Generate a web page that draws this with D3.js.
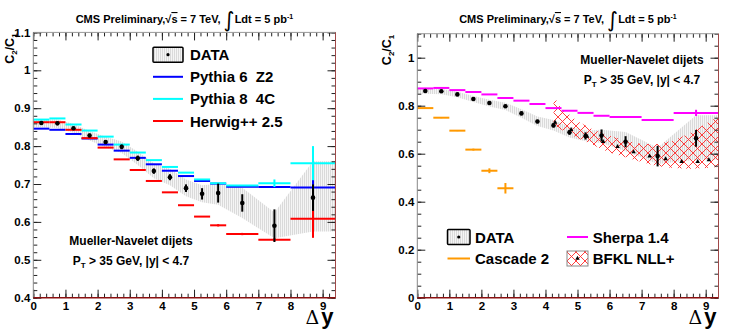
<!DOCTYPE html>
<html>
<head>
<meta charset="utf-8">
<script src="https://cdn.jsdelivr.net/npm/d3@7"></script>
<style>
body { margin: 0; background: #fff; }
text { font-family: "Liberation Sans", Arial, sans-serif; font-weight: bold; fill: #000; }
</style>
</head>
<body>
<svg id="chart" width="729" height="332"></svg>
<script>
// bins in delta y
const binEdges = [0, 0.5, 1, 1.5, 2, 2.5, 3, 3.5, 4, 4.5, 5, 5.5, 6, 7, 8, 9.4];

// measured C2/C1
const dataY    = [0.861, 0.860, 0.847, 0.828, 0.811, 0.798, 0.768, 0.734, 0.718, 0.689, 0.674, 0.676, 0.650, 0.590, 0.664];
const dataStat = [0.004, 0.004, 0.004, 0.005, 0.005, 0.006, 0.007, 0.007, 0.008, 0.010, 0.015, 0.025, 0.023, 0.043, 0.035];
const sysLo    = [0.850, 0.848, 0.835, 0.815, 0.797, 0.782, 0.750, 0.715, 0.697, 0.668, 0.652, 0.645, 0.610, 0.557, 0.575];
const sysHi    = [0.870, 0.870, 0.858, 0.840, 0.825, 0.812, 0.785, 0.755, 0.740, 0.712, 0.697, 0.700, 0.690, 0.625, 0.760];

// MC predictions (one value per bin)
const pythia6    = [0.846, 0.843, 0.832, 0.820, 0.804, 0.788, 0.769, 0.752, 0.735, 0.721, 0.708, 0.701, 0.693, 0.692, 0.691];
const pythia6Err = [0, 0, 0, 0, 0, 0, 0, 0, 0, 0, 0, 0, 0, 0, 0.02];
const pythia8    = [0.870, 0.873, 0.857, 0.841, 0.825, 0.804, 0.783, 0.763, 0.745, 0.730, 0.712, 0.702, 0.696, 0.702, 0.755];
const pythia8Err = [0, 0, 0, 0, 0, 0, 0, 0, 0, 0, 0, 0, 0, 0.01, 0.045];
const herwig     = [0.863, 0.863, 0.843, 0.821, 0.796, 0.765, 0.737, 0.708, 0.678, 0.644, 0.614, 0.591, 0.568, 0.553, 0.608];
const herwigErr  = [0, 0, 0, 0, 0, 0, 0, 0, 0, 0, 0, 0.003, 0.003, 0.004, 0.05];
const sherpa     = [0.872, 0.874, 0.865, 0.857, 0.847, 0.832, 0.821, 0.807, 0.790, 0.779, 0.770, 0.758, 0.753, 0.740, 0.770];
const sherpaErr  = [0, 0, 0, 0, 0, 0, 0, 0, 0, 0, 0, 0, 0.003, 0.003, 0.013];
const cascade    = [0.790, 0.750, 0.696, 0.617, 0.529, 0.456];
const cascadeErr = [0.002, 0.002, 0.002, 0.004, 0.010, 0.022];

// BFKL NLL+ band and central values
const bfklBandX = [4.25, 4.5, 5, 5.5, 6, 6.5, 7, 7.5, 8, 8.5, 9, 9.4];
const bfklHi    = [0.840, 0.790, 0.735, 0.700, 0.675, 0.655, 0.640, 0.640, 0.655, 0.685, 0.725, 0.755];
const bfklLo    = [0.720, 0.700, 0.665, 0.635, 0.605, 0.585, 0.565, 0.548, 0.540, 0.537, 0.540, 0.545];
const bfklX     = [4.3, 4.8, 5.3, 5.8, 6.25, 6.75, 7.25, 7.75, 8.25, 8.75, 9.1];
const bfklY     = [0.730, 0.700, 0.672, 0.650, 0.629, 0.607, 0.590, 0.578, 0.567, 0.567, 0.574];

const leftLegend  = ["DATA", "Pythia 6  Z2", "Pythia 8  4C", "Herwig++ 2.5"];
const rightLegend = ["DATA", "Cascade 2", "Sherpa 1.4", "BFKL NLL+"];

const colors = { p6: "#0000ff", p8: "#00ffff", hw: "#ff0000", sh: "#ff00ff", cas: "#ff9900" };
const binCenters = binEdges.slice(0, -1).map((e, i) => (e + binEdges[i + 1]) / 2);

const svg = d3.select("#chart");
const defs = svg.append("defs");

const sysPat = defs.append("pattern").attr("id", "sysPat")
  .attr("patternUnits", "userSpaceOnUse").attr("width", 2).attr("height", 4);
sysPat.append("rect").attr("width", 2).attr("height", 4).attr("fill", "#f5f5f5");
sysPat.append("line").attr("x1", 0.5).attr("x2", 0.5).attr("y1", 0).attr("y2", 4)
  .attr("stroke", "#dadada").attr("stroke-width", 1);

const hatch = defs.append("pattern").attr("id", "hatch")
  .attr("patternUnits", "userSpaceOnUse").attr("width", 9).attr("height", 9);
hatch.append("path").attr("d", "M0,0L9,9M9,0L0,9")
  .attr("stroke", "#ff2a2a").attr("stroke-width", 0.9).attr("fill", "none");

const yBase = 297.7;

function drawPanel(p) {
  const x = d3.scaleLinear().domain([0, 9.4]).range([p.left, p.right]);
  const y = d3.scaleLinear().domain(p.yDomain).range([yBase, p.top]);
  const g = svg.append("g");

  // systematic band of the data
  const band = [{ x: 0, lo: sysLo[0], hi: sysHi[0] }]
    .concat(binCenters.map((c, i) => ({ x: c, lo: sysLo[i], hi: sysHi[i] })))
    .concat([{ x: 9.4, lo: sysLo[sysLo.length - 1], hi: sysHi[sysHi.length - 1] }]);
  g.append("path").datum(band)
    .attr("d", d3.area().x(d => x(d.x)).y0(d => y(d.lo)).y1(d => y(d.hi)))
    .attr("fill", "url(#sysPat)");

  if (p.bfkl) {
    const bb = bfklBandX.map((v, i) => ({ x: v, lo: bfklLo[i], hi: bfklHi[i] }));
    g.append("path").datum(bb)
      .attr("d", d3.area().x(d => x(d.x)).y0(d => y(d.lo)).y1(d => y(d.hi)))
      .attr("fill", "url(#hatch)");
  }

  function hist(vals, errs, color) {
    const gg = g.append("g");
    gg.selectAll("line.h").data(vals).join("line")
      .attr("x1", (d, i) => x(binEdges[i])).attr("x2", (d, i) => x(binEdges[i + 1]))
      .attr("y1", d => y(d)).attr("y2", d => y(d))
      .attr("stroke", color).attr("stroke-width", 2);
    gg.selectAll("line.e").data(vals.map((v, i) => ({ v, e: errs[i], i })).filter(d => d.e > 0)).join("line")
      .attr("x1", d => x(binCenters[d.i])).attr("x2", d => x(binCenters[d.i]))
      .attr("y1", d => y(d.v - d.e)).attr("y2", d => y(d.v + d.e))
      .attr("stroke", color).attr("stroke-width", 2);
  }
  p.series.forEach(s => hist(s.vals, s.errs, s.color));

  // data points
  g.selectAll("line.stat").data(dataY).join("line")
    .attr("x1", (d, i) => x(binCenters[i])).attr("x2", (d, i) => x(binCenters[i]))
    .attr("y1", (d, i) => y(d - dataStat[i])).attr("y2", (d, i) => y(d + dataStat[i]))
    .attr("stroke", "#000").attr("stroke-width", 2);
  g.selectAll("circle.pt").data(dataY).join("circle")
    .attr("cx", (d, i) => x(binCenters[i])).attr("cy", d => y(d))
    .attr("r", 2.3).attr("fill", "#000");

  if (p.bfkl) {
    g.selectAll("path.tri").data(bfklY).join("path")
      .attr("d", d3.symbol().type(d3.symbolTriangle).size(9))
      .attr("transform", (d, i) => `translate(${x(bfklX[i])},${y(d)})`)
      .attr("fill", "#000");
  }

  // axes, ROOT style ticks inside the frame
  const fmt = d => String(+d.toFixed(1));
  const ax = [];
  ax.push(g.append("g").attr("transform", `translate(${p.left},0)`)
    .call(d3.axisLeft(y).tickValues(p.yMajor).tickSize(-8).tickPadding(3).tickFormat(fmt)));
  ax.push(g.append("g").attr("transform", `translate(${p.left},0)`)
    .call(d3.axisLeft(y).tickValues(p.yMinor).tickSize(-4).tickFormat("")));
  ax.push(g.append("g").attr("transform", `translate(${p.right},0)`)
    .call(d3.axisRight(y).tickValues(p.yMajor).tickSize(-8).tickFormat("")));
  ax.push(g.append("g").attr("transform", `translate(${p.right},0)`)
    .call(d3.axisRight(y).tickValues(p.yMinor).tickSize(-4).tickFormat("")));
  const xMajor = d3.range(0, 10);
  const xMinor = d3.range(0, 47).map(i => i * 0.2);
  ax.push(g.append("g").attr("transform", `translate(0,${yBase})`)
    .call(d3.axisBottom(x).tickValues(xMajor).tickSize(-8).tickPadding(4).tickFormat(d3.format("d"))));
  ax.push(g.append("g").attr("transform", `translate(0,${yBase})`)
    .call(d3.axisBottom(x).tickValues(xMinor).tickSize(-4).tickFormat("")));
  ax.push(g.append("g").attr("transform", `translate(0,${p.top})`)
    .call(d3.axisTop(x).tickValues(xMajor).tickSize(-8).tickFormat("")));
  ax.push(g.append("g").attr("transform", `translate(0,${p.top})`)
    .call(d3.axisTop(x).tickValues(xMinor).tickSize(-4).tickFormat("")));
  ax.forEach(a => {
    a.select(".domain").remove();
    a.selectAll(".tick line").attr("stroke", "#222");
    a.selectAll("text").attr("font-size", 11.5).attr("font-family", null);
  });

  // frame
  g.append("line").attr("x1", p.left).attr("x2", p.right).attr("y1", p.top).attr("y2", p.top).attr("stroke", "#999");
  g.append("line").attr("x1", p.left).attr("x2", p.left).attr("y1", p.top).attr("y2", yBase).attr("stroke", "#888");
  g.append("line").attr("x1", p.right).attr("x2", p.right).attr("y1", p.top).attr("y2", yBase).attr("stroke", "#a04848");
  g.append("line").attr("x1", p.left).attr("x2", p.right).attr("y1", yBase).attr("y2", yBase)
    .attr("stroke", "#8b1010").attr("stroke-width", 1.5);

  // title
  const cx = (p.left + p.right) / 2;
  const t = svg.append("text").attr("x", cx).attr("y", 23).attr("text-anchor", "middle").attr("font-size", 11);
  t.append("tspan").text("CMS Preliminary,√");
  t.append("tspan").text("s").style("text-decoration", "overline");
  t.append("tspan").text(" = 7 TeV, ");
  t.append("tspan").text("∫").attr("font-size", 21).attr("font-weight", "normal")
    .attr("font-family", "DejaVu Sans").attr("dy", 4);
  t.append("tspan").text("Ldt = 5 pb").attr("dy", -4);
  t.append("tspan").text("-1").attr("font-size", 7).attr("dy", -4);

  // y title
  const yl = svg.append("text").attr("transform", `translate(${p.yLabelX},${p.top + 1}) rotate(-90)`)
    .attr("text-anchor", "end").attr("font-size", 12.5);
  yl.append("tspan").text("C");
  yl.append("tspan").text("2").attr("font-size", 8).attr("dy", 3);
  yl.append("tspan").text("/C").attr("dy", -3);
  yl.append("tspan").text("1").attr("font-size", 8).attr("dy", 3);

  // x title
  const xl = svg.append("text").attr("x", p.right - 2).attr("y", 324).attr("text-anchor", "end");
  xl.append("tspan").text("Δ").attr("font-size", 19).attr("font-weight", "normal").attr("font-family", "DejaVu Serif");
  xl.append("tspan").text("y").attr("font-size", 22).attr("dx", 2);

  // selection text
  const sel = svg.append("g").attr("font-size", 12);
  sel.append("text").attr("x", p.selX).attr("y", p.selY).attr("text-anchor", "middle").text("Mueller-Navelet dijets");
  const s2 = sel.append("text").attr("x", p.selX).attr("y", p.selY + 20).attr("text-anchor", "middle");
  s2.append("tspan").text("P");
  s2.append("tspan").text("T").attr("font-size", 8).attr("dy", 3);
  s2.append("tspan").text(" > 35 GeV, |y| < 4.7").attr("dy", -3);

  return { x, y, g };
}

// left panel
drawPanel({
  left: 33.3, right: 335.5, top: 32.4, yDomain: [0.4, 1.1],
  yMajor: d3.range(4, 12).map(i => i / 10), yMinor: d3.range(20, 56).map(i => i / 50),
  yLabelX: 14, selX: 131, selY: 244.5,
  series: [
    { vals: pythia6, errs: pythia6Err, color: colors.p6 },
    { vals: pythia8, errs: pythia8Err, color: colors.p8 },
    { vals: herwig, errs: herwigErr, color: colors.hw }
  ]
});

// right panel
drawPanel({
  left: 417.3, right: 718.5, top: 33.7, yDomain: [0, 1.1],
  yMajor: d3.range(0, 6).map(i => i / 5), yMinor: d3.range(0, 23).map(i => i / 20),
  yLabelX: 391, selX: 642, selY: 64, bfkl: true,
  series: [
    { vals: sherpa, errs: sherpaErr, color: colors.sh },
    { vals: cascade, errs: cascadeErr, color: colors.cas }
  ]
});

// legends
function dataBox(g, x0, yc, w) {
  g.append("rect").attr("x", x0).attr("y", yc - 7.5).attr("width", w).attr("height", 15)
    .attr("fill", "url(#sysPat)").attr("stroke", "#000").attr("stroke-width", 1.5).attr("rx", 1);
  g.append("circle").attr("cx", x0 + w / 2).attr("cy", yc).attr("r", 1.6).attr("fill", "#000");
}
function lineKey(g, x0, yc, color, w) {
  g.append("line").attr("x1", x0).attr("x2", x0 + w).attr("y1", yc).attr("y2", yc)
    .attr("stroke", color).attr("stroke-width", 2);
}
function label(g, x0, yc, txt) {
  g.append("text").attr("x", x0).attr("y", yc + 5.5).attr("font-size", 15)
    .attr("xml:space", "preserve").style("white-space", "pre").text(txt);
}

const legL = svg.append("g");
const lcol = [null, colors.p6, colors.p8, colors.hw];
leftLegend.forEach((txt, i) => {
  const yc = 54.7 + i * 22.1;
  if (i === 0) dataBox(legL, 153, yc, 30); else lineKey(legL, 153, yc, lcol[i], 30);
  label(legL, 190, yc, txt);
});

const legR = svg.append("g");
rightLegend.forEach((txt, i) => {
  const col = i < 2 ? 0 : 1;
  const row = i % 2;
  const x0 = col === 0 ? 447.5 : 567;
  const yc = 237 + row * 21.5;
  if (i === 0) dataBox(legR, x0, yc, 22.5);
  else if (i === 1) lineKey(legR, x0, yc, colors.cas, 22.5);
  else if (i === 2) lineKey(legR, x0, yc, colors.sh, 21);
  else {
    legR.append("rect").attr("x", x0).attr("y", yc - 7.5).attr("width", 21).attr("height", 15)
      .attr("fill", "url(#hatch)").attr("stroke", "#888").attr("stroke-width", 1);
    legR.append("path").attr("d", d3.symbol().type(d3.symbolTriangle).size(9))
      .attr("transform", `translate(${x0 + 10.5},${yc})`).attr("fill", "#000");
  }
  label(legR, x0 + (col === 0 ? 27.5 : 25.7), yc, txt);
});
</script>
</body>
</html>
